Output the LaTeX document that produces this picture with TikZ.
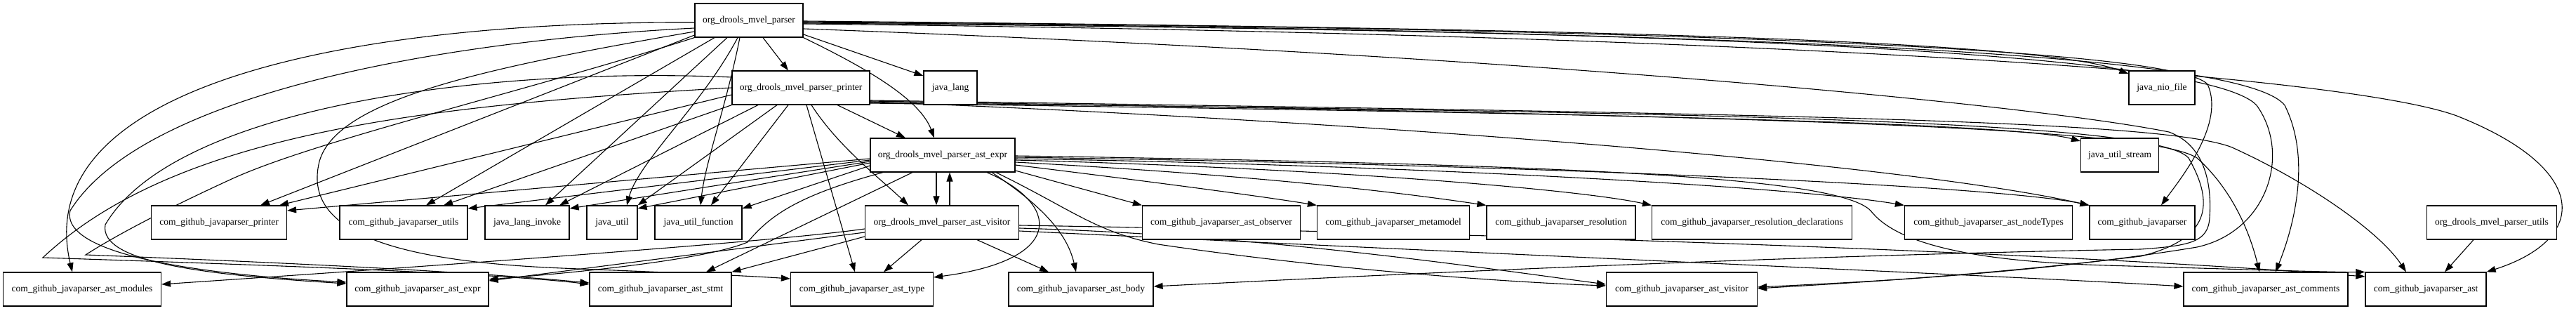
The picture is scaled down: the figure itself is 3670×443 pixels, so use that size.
\documentclass[tikz,border=0pt]{standalone}
\usepackage{fontspec}
\setmainfont{Liberation Serif}
\usetikzlibrary{arrows.meta,calc}
\pgfdeclarelayer{bg}
\pgfsetlayers{bg,main}
\tikzset{
 pkg/.style={draw, line width=1.2pt, fill=white, rectangle, minimum height=48pt, inner sep=0pt, font=\fontsize{13.5}{16}\selectfont},
 dep/.style={line width=1.1pt, -{Triangle[length=13pt,width=9pt]}},
}
\begin{document}
\begin{tikzpicture}[x=1pt,y=-1pt]
\useasboundingbox (0,0) rectangle (3670,443);
% row 1-3
\node[pkg, minimum width=154pt] (P) at (1067,29) {org\_drools\_mvel\_parser};
\node[pkg, minimum width=196pt] (PR) at (1141,125) {org\_drools\_mvel\_parser\_printer};
\node[pkg, minimum width=76pt] (JL) at (1354,125) {java\_lang};
\node[pkg, minimum width=94pt] (NIO) at (3080,125) {java\_nio\_file};
\node[pkg, minimum width=206pt] (AE) at (1343,221) {org\_drools\_mvel\_parser\_ast\_expr};
\node[pkg, minimum width=111pt] (STREAM) at (3020,221) {java\_util\_stream};
% row 4
\node[pkg, minimum width=193pt] (CPR) at (312,317) {com\_github\_javaparser\_printer};
\node[pkg, minimum width=182pt] (UT) at (575,317) {com\_github\_javaparser\_utils};
\node[pkg, minimum width=120pt] (JLI) at (751,317) {java\_lang\_invoke};
\node[pkg, minimum width=72pt] (JU) at (872,317) {java\_util};
\node[pkg, minimum width=124pt] (JUF) at (995,317) {java\_util\_function};
\node[pkg, minimum width=219pt] (AV) at (1342,317) {org\_drools\_mvel\_parser\_ast\_visitor};
\node[pkg, minimum width=225pt] (OBS) at (1740,317) {com\_github\_javaparser\_ast\_observer};
\node[pkg, minimum width=217pt] (META) at (1985,317) {com\_github\_javaparser\_metamodel};
\node[pkg, minimum width=212pt] (RES) at (2224,317) {com\_github\_javaparser\_resolution};
\node[pkg, minimum width=285pt] (RESD) at (2496,317) {com\_github\_javaparser\_resolution\_declarations};
\node[pkg, minimum width=239pt] (NT) at (2833,317) {com\_github\_javaparser\_ast\_nodeTypes};
\node[pkg, minimum width=150pt] (CJ) at (3052,317) {com\_github\_javaparser};
\node[pkg, minimum width=185pt] (MU) at (3550,317) {org\_drools\_mvel\_parser\_utils};
% row 5
\node[pkg, minimum width=225pt] (MOD) at (117,412) {com\_github\_javaparser\_ast\_modules};
\node[pkg, minimum width=202pt] (EXPR) at (595,412) {com\_github\_javaparser\_ast\_expr};
\node[pkg, minimum width=202pt] (STMT) at (941,412) {com\_github\_javaparser\_ast\_stmt};
\node[pkg, minimum width=203pt] (TYPE) at (1228,412) {com\_github\_javaparser\_ast\_type};
\node[pkg, minimum width=206pt] (BODY) at (1540,412) {com\_github\_javaparser\_ast\_body};
\node[pkg, minimum width=215pt] (VIS) at (2396,412) {com\_github\_javaparser\_ast\_visitor};
\node[pkg, minimum width=234pt] (COM) at (3228,412) {com\_github\_javaparser\_ast\_comments};
\node[pkg, minimum width=172pt] (AST) at (3456,412) {com\_github\_javaparser\_ast};

\begin{pgfonlayer}{bg}
\fill[white] (0,0) rectangle (3670,443);
% from P
\draw[dep] ([xshift=20pt]P.south) -- ([xshift=-18pt]PR.north);
\draw[dep] ([yshift=-20pt]P.east) -- ([yshift=17pt]JL.west);
\draw[dep] (P.south east) .. controls (1230,95) and (1310,140) .. ([xshift=-12pt]AE.north);
\draw[dep] ([xshift=-49pt]P.south) -- ([xshift=32pt]UT.north);
\draw[dep] ([xshift=-31pt]P.south) -- ([xshift=26pt]JLI.north);
\draw[dep] ([xshift=-16pt]P.south) .. controls (1000,150) and (910,230) .. ([xshift=21pt]JU.north);
\draw[dep] ([xshift=-13pt]P.south) .. controls (1035,150) and (1005,230) .. ([xshift=3pt]JUF.north);
\draw[dep] ([yshift=-21pt]P.west) -- ([xshift=59pt]CPR.north);
\draw[dep] ([yshift=-3pt]P.west) .. controls (500,30) and (40,120) .. ([xshift=-14pt]MOD.north);
\draw[dep] ([yshift=-11pt]P.west) .. controls (600,60) and (200,140) .. (100,300) .. controls (85,365) and (300,392) .. ([yshift=10pt]EXPR.west);
\draw[dep] ([yshift=-16pt]P.west) .. controls (700,95) and (480,140) .. (455,230) .. controls (430,330) and (560,372) .. (800,382) .. controls (950,388) and (1050,392) .. ([yshift=15pt]TYPE.west);
\draw[dep] (P.south west) .. controls (750,130) and (450,200) .. (330,255) .. controls (210,310) and (150,345) .. (122,363) .. controls (350,372) and (650,385) .. ([yshift=9pt]STMT.west);
\draw[dep] ([yshift=-1pt]P.east) .. controls (2200,40) and (2900,55) .. ([yshift=20pt]NIO.west);
\draw[dep] ([yshift=-2pt]P.east) .. controls (2400,40) and (3100,70) .. (3145,120) .. controls (3170,175) and (3110,250) .. ([xshift=27pt]CJ.north);
\draw[dep] ([yshift=-3pt]P.east) .. controls (2500,42) and (3150,80) .. (3215,150) .. controls (3265,220) and (3230,330) .. (3130,352) .. controls (2900,390) and (2650,402) .. ([yshift=3pt]VIS.east);
\draw[dep] ([yshift=-4pt]P.east) .. controls (2600,45) and (3200,80) .. (3255,150) .. controls (3295,230) and (3265,330) .. ([xshift=14pt]COM.north);
\draw[dep] ([yshift=-5pt]P.east) .. controls (2600,50) and (3350,110) .. (3500,165) .. controls (3690,240) and (3690,340) .. (AST.north east);
\draw[dep] ([yshift=-12pt]P.east) .. controls (2200,80) and (2900,150) .. (3090,188) .. controls (3150,210) and (3150,280) .. (3148,310) .. controls (3146,345) and (3120,350) .. (3050,355) .. controls (2500,365) and (1900,395) .. ([yshift=4pt]BODY.east);
% from PR
\draw[dep] ([xshift=52pt]PR.south) -- ([xshift=-53pt]AE.north);
\draw[dep] ([xshift=15pt]PR.south) .. controls (1195,210) and (1255,255) .. ([xshift=-48pt]AV.north);
\draw[dep] ([xshift=8pt]PR.south) -- ([xshift=-10pt]TYPE.north);
\draw[dep] ([yshift=-10pt]PR.west) -- ([xshift=86pt]CPR.north);
\draw[dep] (PR.south west) -- ([xshift=57pt]UT.north);
\draw[dep] ([xshift=-61pt]PR.south) -- ([xshift=46pt]JLI.north);
\draw[dep] ([xshift=-34pt]PR.south) -- (JU.north east);
\draw[dep] ([xshift=-18pt]PR.south) -- ([xshift=18pt]JUF.north);
\draw[dep] ([yshift=15pt]PR.west) .. controls (700,95) and (250,150) .. (150,320) .. controls (140,375) and (300,392) .. ([yshift=8pt]EXPR.west);
\draw[dep] (PR.west) .. controls (600,150) and (250,190) .. (61,367) .. controls (300,375) and (700,388) .. ([yshift=7pt]STMT.west);
\draw[dep] ([yshift=-22pt]PR.east) .. controls (2000,158) and (2850,170) .. ([yshift=20pt]STREAM.west);
\draw[dep] ([yshift=-20pt]PR.east) .. controls (1900,170) and (2700,230) .. (CJ.north west);
\draw[dep] ([yshift=-21pt]PR.east) .. controls (2400,160) and (3070,170) .. (3118,225) .. controls (3155,290) and (3150,340) .. (3050,365) .. controls (2800,395) and (2600,405) .. ([yshift=1pt]VIS.east);
\draw[dep] ([yshift=-19pt]PR.east) .. controls (2500,165) and (3060,180) .. (3130,225) .. controls (3180,270) and (3205,330) .. ([xshift=-9pt]COM.north);
\draw[dep] ([yshift=-18pt]PR.east) .. controls (2500,162) and (3080,170) .. (3180,210) .. controls (3290,260) and (3390,330) .. ([xshift=-28pt]AST.north);
% from AE
\draw[dep] ([xshift=-9pt]AE.south) -- ([xshift=-8pt]AV.north);
\draw[dep] ([yshift=-5pt]AE.west) -- ([yshift=17pt]CPR.east);
\draw[dep] ([yshift=-7pt]AE.west) -- ([yshift=20pt]UT.east);
\draw[dep] ([yshift=-9pt]AE.west) -- ([yshift=20pt]JLI.east);
\draw[dep] ([yshift=-11pt]AE.west) -- ([yshift=20pt]JU.east);
\draw[dep] ([yshift=-15pt]AE.west) -- ([yshift=20pt]JUF.east);
\draw[dep] ([xshift=-85pt]AE.south) .. controls (1130,280) and (1095,310) .. (1065,345) .. controls (1000,372) and (800,390) .. ([yshift=14pt]EXPR.east);
\draw[dep] ([xshift=-43pt]AE.south) -- ([xshift=65pt]STMT.north);
\draw[dep] ([xshift=63pt]AE.south) .. controls (1510,290) and (1520,370) .. ([yshift=17pt]TYPE.east);
\draw[dep] ([xshift=70pt]AE.south) .. controls (1480,290) and (1520,330) .. ([xshift=-7pt]BODY.north);
\draw[dep] ([xshift=76pt]AE.south) .. controls (1530,300) and (1560,330) .. (1650,348) .. controls (1900,385) and (2150,402) .. ([yshift=5pt]VIS.west);
\draw[dep] ([yshift=-22pt]AE.east) -- (OBS.north west);
\draw[dep] ([yshift=-14pt]AE.east) .. controls (1650,260) and (1800,280) .. (META.north west);
\draw[dep] ([yshift=-10pt]AE.east) .. controls (1800,250) and (2000,275) .. (RES.north west);
\draw[dep] ([yshift=-7pt]AE.east) .. controls (1900,240) and (2250,270) .. (RESD.north west);
\draw[dep] ([yshift=-5pt]AE.east) .. controls (2000,235) and (2550,265) .. (NT.north west);
\draw[dep] ([yshift=-3pt]AE.east) .. controls (2200,235) and (2850,265) .. (CJ.north west);
\draw[dep] ([yshift=-1pt]AE.east) .. controls (2300,235) and (2620,255) .. (2665,300) .. controls (2700,345) and (2800,372) .. (3000,378) .. controls (3200,384) and (3330,388) .. (AST.north west);
% from AV
\draw[dep] ([xshift=11pt]AV.north) -- ([xshift=10pt]AE.south);
\draw[dep] ([yshift=-9pt]AV.west) .. controls (1100,345) and (600,380) .. ([yshift=7pt]MOD.east);
\draw[dep] ([yshift=-14pt]AV.west) -- ([yshift=12pt]EXPR.east);
\draw[dep] ([yshift=-20pt]AV.west) -- (STMT.north east);
\draw[dep] ([xshift=-29pt]AV.south) -- ([xshift=31pt]TYPE.north);
\draw[dep] ([xshift=50pt]AV.south) -- ([xshift=-46pt]BODY.north);
\draw[dep] ([yshift=-8pt]AV.east) .. controls (1800,335) and (2100,380) .. ([yshift=7pt]VIS.west);
\draw[dep] ([yshift=-12pt]AV.east) .. controls (2200,365) and (2900,395) .. ([yshift=4pt]COM.west);
\draw[dep] ([yshift=-4pt]AV.east) .. controls (2300,335) and (3000,365) .. ([yshift=18pt]AST.west);
% from MU
\draw[dep] ([xshift=-26pt]MU.south) -- ([xshift=27pt]AST.north);
\end{pgfonlayer}
\end{tikzpicture}
\end{document}
